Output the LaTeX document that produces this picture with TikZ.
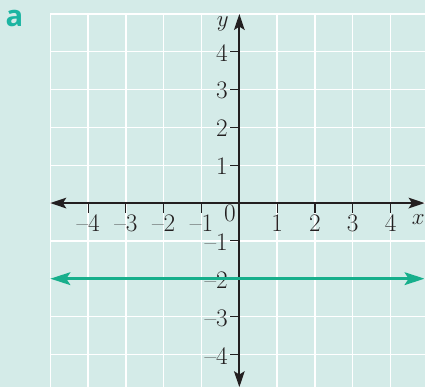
\documentclass[tikz,border=0pt]{standalone}
\usepackage{fontspec}
\newfontfamily\tagfont{Open Sans}
\usetikzlibrary{arrows.meta}
\definecolor{bgteal}{HTML}{D4EBE8}
\definecolor{lineteal}{HTML}{17AF8C}
\definecolor{tagteal}{HTML}{1CB5A2}
\definecolor{axisgray}{HTML}{231F20}

\begin{document}
\begin{tikzpicture}[x=1cm,y=1cm,font=\fontsize{19}{22}\selectfont,
  gridline/.style={white, line width=1pt},
  axis/.style={axisgray, line width=1.4pt, {Stealth[length=12pt, width=8pt, inset=2.5pt]}-{Stealth[length=12pt, width=8pt, inset=2.5pt]}},
  tick/.style={axisgray, line width=0.8pt},
  graphline/.style={lineteal, line width=2.2pt, {Stealth[length=15pt, width=9.5pt, inset=3pt]}-{Stealth[length=15pt, width=9.5pt, inset=3pt]}},
  xlab/.style={anchor=base, inner sep=0pt, text=axisgray},
  ylab/.style={anchor=east, inner sep=0pt, text=axisgray}]
\useasboundingbox (-6.33,-4.87) rectangle (4.91,5.37);
\fill[bgteal] (-6.33,-4.87) rectangle (4.91,5.37);
\draw[gridline] (-5,-4.87) grid (4.91,5);
\coordinate (xmin) at (-5,0);
\coordinate (xmax) at (4.9,0);
\coordinate (ymin) at (0,-4.87);
\coordinate (ymax) at (0,5);
\coordinate (lmin) at (-5,-2);
\coordinate (lmax) at (4.9,-2);
\foreach \k in {1,...,4} {
  \draw[tick] (\k,0) -- (\k,-0.25);
  \draw[tick] (-\k,0) -- (-\k,-0.25);
  \draw[tick] (0,\k) -- (-0.25,\k);
  \draw[tick] (0,-\k) -- (-0.25,-\k);
  \node[xlab] (xp\k) at (\k,-0.76) {\k};
  \node[xlab] (xn\k) at (-\k,-0.76) {\textendash\k};
  \node[ylab] (yp\k) at (-0.3,\k-0.03) {\k};
  \node[ylab] (yn\k) at (-0.3,-\k-0.04) {\textendash\k};
}
\draw[axis] (xmin) -- (xmax);
\draw[axis] (ymin) -- (ymax);
\draw[graphline] (lmin) -- (lmax);
\node[xlab] (orig) at (-0.25,-0.49) {0};
\node[xlab] (xname) at (4.73,-0.58) {$x$};
\node[xlab] (yname) at (-0.44,4.68) {$y$};
\node[anchor=base, inner sep=0pt, text=tagteal, font=\tagfont\bfseries\fontsize{22}{24}\selectfont] (tag) at (-5.95,4.68) {a};
\end{tikzpicture}
\end{document}
